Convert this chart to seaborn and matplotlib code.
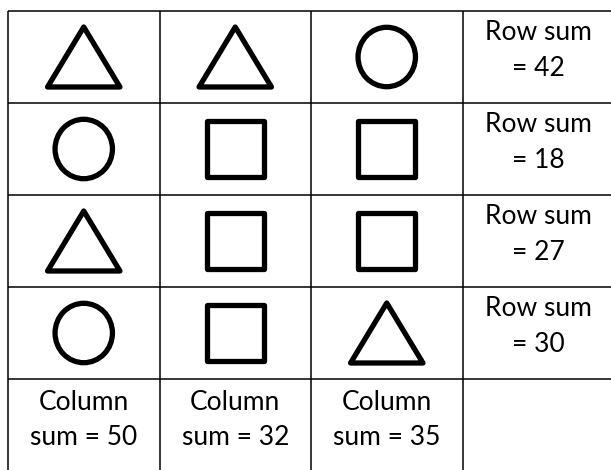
import numpy as np
import pandas as pd
import matplotlib
matplotlib.use("Agg")
import matplotlib.pyplot as plt
from matplotlib.path import Path
import seaborn as sns

# ---- data ----
shape_grid = [
    ["triangle", "triangle", "circle"],
    ["circle", "square", "square"],
    ["triangle", "square", "square"],
    ["circle", "square", "triangle"],
]
row_sums = [42, 18, 27, 30]
col_sums = [50, 32, 35]
row_label = "Row sum"
col_label_top = "Column"
col_label_bottom = "sum"

sns.set_theme(style="white")
plt.rcParams["font.family"] = ["Lato", "DejaVu Sans"]

n_rows = len(shape_grid)
n_cols = len(shape_grid[0])
records = [
    dict(col=c + 0.5, row=r + 0.5, shape=s)
    for r, line in enumerate(shape_grid)
    for c, s in enumerate(line)
]
df = pd.DataFrame(records)

DPI = 100
W, H = 611, 470
fig = plt.figure(figsize=(W / DPI, H / DPI), dpi=DPI)
fig.patch.set_facecolor("white")
ax = fig.add_axes([0, 0, 1, 1])
cell_w, cell_h = 151.5, 92.0
left, top = 8.0, 11.0
ax.set_xlim(-left / cell_w, (W - left) / cell_w)
ax.set_ylim((H - top) / cell_h, -top / cell_h)
ax.set_axis_off()

# table grid
ax.hlines(range(n_rows + 2), 0, n_cols + 1, color="black", lw=1.1)
ax.vlines(range(n_cols + 2), 0, n_rows + 2, color="black", lw=1.1)

# marker shapes (outline centrelines, in pixels)
tri = Path([(-36.2, -30), (36.2, -30), (0, 30), (-36.2, -30)],
           [Path.MOVETO, Path.LINETO, Path.LINETO, Path.CLOSEPOLY])
sq = Path([(-28.35, -28.35), (28.35, -28.35), (28.35, 28.35), (-28.35, 28.35), (-28.35, -28.35)],
          [Path.MOVETO, Path.LINETO, Path.LINETO, Path.LINETO, Path.CLOSEPOLY])
uc = Path.unit_circle()
circ = Path(uc.vertices * np.array([28.7, 29.7]), uc.codes)

markers = {"triangle": tri, "square": sq, "circle": circ}
half_extent = {"triangle": 36.2, "square": 28.35, "circle": 29.7}
sizes = {k: (2 * m * 72 / DPI) ** 2 for k, m in half_extent.items()}

sns.scatterplot(
    data=df, x="col", y="row", style="shape", markers=markers,
    size="shape", sizes=sizes, facecolor="none", edgecolor="black",
    linewidth=3.8, joinstyle="round", legend=False, ax=ax,
)
ax.set_xlim(-left / cell_w, (W - left) / cell_w)
ax.set_ylim((H - top) / cell_h, -top / cell_h)
ax.set_axis_off()

FS = 19
for r, v in enumerate(row_sums):
    ax.text(n_cols + 0.5, r + 29.5 / cell_h, row_label, ha="center", va="baseline",
            fontsize=FS, color="black")
    ax.text(n_cols + 0.5, r + 65 / cell_h, f"= {v}", ha="center", va="baseline",
            fontsize=FS, color="black")
for c, v in enumerate(col_sums):
    ax.text(c + 0.5, n_rows + 31 / cell_h, col_label_top, ha="center", va="baseline",
            fontsize=FS, color="black")
    ax.text(c + 0.5, n_rows + 66 / cell_h, f"{col_label_bottom} = {v}", ha="center",
            va="baseline", fontsize=FS, color="black")

fig.savefig("out.png", dpi=DPI, facecolor="white")
